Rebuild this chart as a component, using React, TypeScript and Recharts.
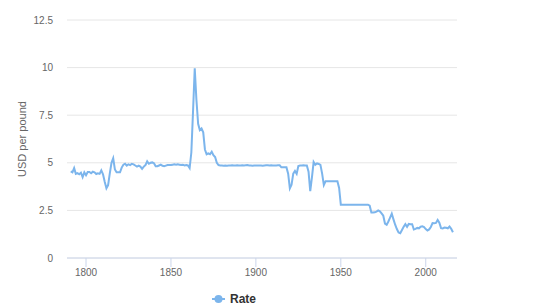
import React from 'react';
import { LineChart, Line, XAxis, YAxis, CartesianGrid, Legend } from 'recharts';

const SERIES_NAME = 'Rate';
const Y_TITLE = 'USD per pound';
const FIRST_YEAR = 1791;

// USD per pound, yearly from 1791 to 2016
const rates = [
  // 1791-1799
  4.55, 4.5, 4.72, 4.42, 4.46, 4.4, 4.48, 4.25, 4.5,
  // 1800s
  4.35, 4.52, 4.52, 4.45, 4.53, 4.5, 4.41, 4.45, 4.42, 4.6,
  // 1810s
  4.4, 4.0, 3.66, 3.83, 4.45, 5.0, 5.24, 4.65, 4.5, 4.5,
  // 1820s
  4.5, 4.75, 4.9, 4.95, 4.85, 4.92, 4.88, 4.95, 4.92, 4.86,
  // 1830s
  4.8, 4.85, 4.8, 4.68, 4.8, 4.88, 5.08, 4.95, 5.0, 5.02,
  // 1840s
  4.98, 4.82, 4.82, 4.86, 4.9, 4.84, 4.82, 4.85, 4.88, 4.88,
  // 1850s
  4.88, 4.9, 4.92, 4.9, 4.92, 4.9, 4.88, 4.9, 4.86, 4.88,
  // 1860s
  4.86, 4.72, 5.54, 7.7, 9.96, 8.3, 7.05, 6.72, 6.8, 6.6,
  // 1870s
  5.7, 5.45, 5.5, 5.45, 5.58, 5.4, 5.3, 5.0, 4.88, 4.86,
  // 1880s
  4.86, 4.85, 4.86, 4.85, 4.86, 4.86, 4.87, 4.86, 4.86, 4.87,
  // 1890s
  4.86, 4.86, 4.87, 4.86, 4.87, 4.88, 4.86, 4.86, 4.85, 4.86,
  // 1900s
  4.86, 4.86, 4.86, 4.86, 4.85, 4.86, 4.87, 4.87, 4.86, 4.87,
  // 1910s
  4.86, 4.86, 4.86, 4.87, 4.87, 4.76, 4.76, 4.76, 4.76, 4.43,
  // 1920s
  3.66, 3.85, 4.43, 4.57, 4.42, 4.83, 4.86, 4.86, 4.87, 4.86,
  // 1930s
  4.86, 4.53, 3.51, 4.23, 5.04, 4.9, 4.97, 4.94, 4.89, 4.43,
  // 1940s
  3.83, 4.03, 4.03, 4.03, 4.03, 4.03, 4.03, 4.03, 4.03, 3.68,
  // 1950s
  2.8, 2.8, 2.8, 2.8, 2.8, 2.8, 2.8, 2.8, 2.8, 2.8,
  // 1960s
  2.8, 2.8, 2.8, 2.8, 2.8, 2.8, 2.8, 2.75, 2.39, 2.39,
  // 1970s
  2.4, 2.44, 2.5, 2.45, 2.34, 2.22, 1.81, 1.75, 1.92, 2.12,
  // 1980s
  2.33, 2.03, 1.75, 1.52, 1.34, 1.3, 1.47, 1.64, 1.78, 1.64,
  // 1990s
  1.79, 1.77, 1.77, 1.5, 1.53, 1.58, 1.56, 1.64, 1.66, 1.62,
  // 2000s
  1.52, 1.44, 1.5, 1.63, 1.83, 1.82, 1.84, 2.0, 1.85, 1.57,
  // 2010-2016
  1.55, 1.6, 1.59, 1.56, 1.65, 1.53, 1.35,
];

const years = rates.map((_, i) => FIRST_YEAR + i);
const xTicks = [1800, 1850, 1900, 1950, 2000];
const yTicks = [0, 2.5, 5, 7.5, 10, 12.5];

const data = years.map((year, i) => ({ year, rate: rates[i] }));

const FONT = '"Liberation Sans", Arial, Helvetica, sans-serif';
const LINE_COLOR = '#7cb5ec';

const YTitle = (props: any) => {
  const vb = props.viewBox || {};
  const cx = 22;
  const cy = (vb.y ?? 20) + (vb.height ?? 238) / 2;
  return (
    <text
      x={cx}
      y={cy}
      transform={`rotate(-90 ${cx} ${cy})`}
      textAnchor="middle"
      dominantBaseline="central"
      fill="#666666"
      fontSize={11}
      fontFamily={FONT}
    >
      {Y_TITLE}
    </text>
  );
};

const renderLegend = () => (
  <svg width={70} height={18} style={{ display: 'block' }}>
    <line x1={2} x2={15} y1={9} y2={9} stroke={LINE_COLOR} strokeWidth={2} />
    <circle cx={8.5} cy={9} r={4} fill={LINE_COLOR} />
    <text x={20} y={13.2} fill="#333333" fontSize={12} fontWeight="bold" fontFamily={FONT}>
      {SERIES_NAME}
    </text>
  </svg>
);

export default function App() {
  return (
    <div style={{ position: 'absolute', left: 0, top: 0, width: 554, height: 308, background: '#fff' }}>
      <LineChart
        width={554}
        height={308}
        data={data}
        margin={{ top: 20, right: 97, bottom: 20, left: 0 }}
      >
        <CartesianGrid horizontal vertical={false} stroke="#e6e6e6" strokeWidth={1} />
        <XAxis
          dataKey="year"
          type="number"
          domain={[1788.8, 2018.4]}
          ticks={xTicks}
          allowDataOverflow
          height={30}
          axisLine={{ stroke: '#ccd6eb' }}
          tickLine={{ stroke: '#ccd6eb' }}
          tickSize={9}
          tickMargin={2}
          tick={{ fill: '#666666', fontSize: 10, fontFamily: FONT }}
        />
        <YAxis
          type="number"
          domain={[0, 12.5]}
          ticks={yTicks}
          width={67}
          axisLine={false}
          tickLine={false}
          tickSize={0}
          tickMargin={14}
          tick={{ fill: '#666666', fontSize: 10, fontFamily: FONT }}
          label={<YTitle />}
        />
        <Legend
          layout="horizontal"
          verticalAlign="middle"
          align="center"
          content={renderLegend}
          wrapperStyle={{ left: 210, top: 290, width: 70, height: 18 }}
        />
        <Line
          type="linear"
          dataKey="rate"
          name={SERIES_NAME}
          stroke={LINE_COLOR}
          strokeWidth={2}
          dot={false}
          activeDot={false}
          isAnimationActive={false}
        />
      </LineChart>
    </div>
  );
}
